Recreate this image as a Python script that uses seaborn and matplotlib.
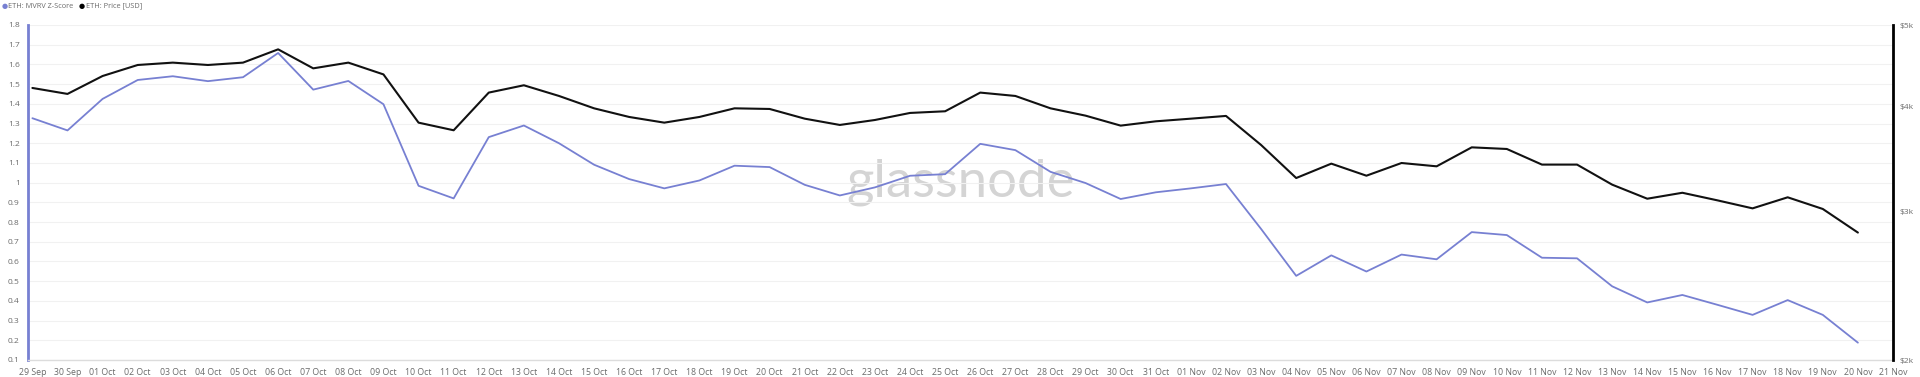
import numpy as np
import pandas as pd
import matplotlib
matplotlib.use("Agg")
import matplotlib.pyplot as plt
import matplotlib.dates as mdates
import matplotlib.ticker as mticker
import seaborn as sns

dates = pd.date_range("2025-09-29", "2025-11-20", freq="D")

mvrv_z = [1.327, 1.265, 1.425, 1.521, 1.540, 1.515, 1.535, 1.658, 1.472, 1.516,
          1.398, 0.984, 0.920, 1.231, 1.290, 1.200, 1.091, 1.018, 0.971, 1.011,
          1.086, 1.079, 0.989, 0.935, 0.976, 1.035, 1.043, 1.197, 1.165, 1.055,
          0.998, 0.917, 0.951, 0.971, 0.993, 0.765, 0.527, 0.631, 0.549, 0.635,
          0.611, 0.749, 0.734, 0.619, 0.616, 0.474, 0.392, 0.430, 0.380, 0.329,
          0.404, 0.329, 0.188]

price_usd = [4209, 4141, 4349, 4482, 4511, 4482, 4511, 4678, 4441, 4511,
             4368, 3828, 3749, 4156, 4240, 4118, 3981, 3888, 3828, 3888,
             3981, 3974, 3870, 3804, 3856, 3931, 3949, 4156, 4118, 3981,
             3902, 3797, 3842, 3870, 3899, 3601, 3290, 3422, 3311, 3428,
             3397, 3578, 3562, 3413, 3413, 3231, 3109, 3160, 3095, 3028,
             3121, 3023, 2834]

left_ticks = [0.1, 0.2, 0.3, 0.4, 0.5, 0.6, 0.7, 0.8, 0.9, 1.0,
              1.1, 1.2, 1.3, 1.4, 1.5, 1.6, 1.7, 1.8]
right_ticks = [2000, 3000, 4000, 5000]
right_labels = ["$2k", "$3k", "$4k", "$5k"]

df = pd.DataFrame({"date": dates, "mvrv": mvrv_z, "price": price_usd})

BLUE = "#7780d2"
TXT = "#6b6b6b"

sns.set_theme(style="white")
plt.rcParams["font.family"] = ["Open Sans", "DejaVu Sans"]

fig = plt.figure(figsize=(19.2, 3.77), dpi=100)
ax = fig.add_axes([28 / 1920, 17 / 377, (1893 - 28) / 1920, (352 - 17) / 377])
ax2 = ax.twinx()

sns.lineplot(data=df, x="date", y="mvrv", ax=ax, color=BLUE, linewidth=1.3)
sns.lineplot(data=df, x="date", y="price", ax=ax2, color="#111111", linewidth=1.5)

ax.set_ylim(0.1, 1.8)
ax2.set_yscale("log")
ax2.set_ylim(2000, 5000)
ax.set_yticks(left_ticks)
ax.set_yticklabels([("%g" % t) for t in left_ticks])
ax2.yaxis.set_major_locator(mticker.FixedLocator(right_ticks))
ax2.yaxis.set_minor_locator(mticker.NullLocator())
ax2.yaxis.set_major_formatter(mticker.FixedFormatter(right_labels))

start = dates[0] - pd.Timedelta(hours=3)
end = pd.Timestamp("2025-11-21")
ax.set_xlim(start, end)
ax.xaxis.set_major_locator(mdates.DayLocator())
ax.xaxis.set_major_formatter(mdates.DateFormatter("%d %b"))

ax.grid(axis="y", color="#f1f1f1", linewidth=0.8)
ax.grid(axis="x", visible=False)
ax2.grid(False)

for a in (ax, ax2):
    a.set_xlabel("")
    a.set_ylabel("")
    for s in a.spines.values():
        s.set_visible(False)

ax.spines["left"].set_visible(True)
ax.spines["left"].set_color(BLUE)
ax.spines["left"].set_linewidth(2)
ax.spines["bottom"].set_visible(True)
ax.spines["bottom"].set_color("#dcdcdc")
ax.spines["bottom"].set_linewidth(1)
ax2.spines["right"].set_visible(True)
ax2.spines["right"].set_color("#000000")
ax2.spines["right"].set_linewidth(2)

ax.tick_params(axis="y", labelsize=6, colors=TXT, length=0, pad=6)
ax.tick_params(axis="x", labelsize=6.3, colors=TXT, length=3, width=0.6,
               pad=3, color="#dcdcdc")
ax2.tick_params(axis="y", which="both", labelsize=6, colors=TXT, length=0, pad=5)

ax.text(0.5, 0.53, "glassnode", transform=ax.transAxes, ha="center",
        va="center", fontsize=38, color="#d4d4d4", family=["Lato", "DejaVu Sans"],
        zorder=0)

ly = 1 - 6 / 377
fig.text(2 / 1920, ly, "\u25CF", color=BLUE, fontsize=5, va="center",
         family=["DejaVu Sans"])
fig.text(8 / 1920, ly, "ETH: MVRV Z-Score", color=TXT, fontsize=5.3,
         va="center")
fig.text(79 / 1920, ly, "\u25CF", color="#000000", fontsize=5, va="center",
         family=["DejaVu Sans"])
fig.text(86 / 1920, ly, "ETH: Price [USD]", color=TXT, fontsize=5.3,
         va="center")

fig.savefig("out.png", dpi=100, facecolor="white")
